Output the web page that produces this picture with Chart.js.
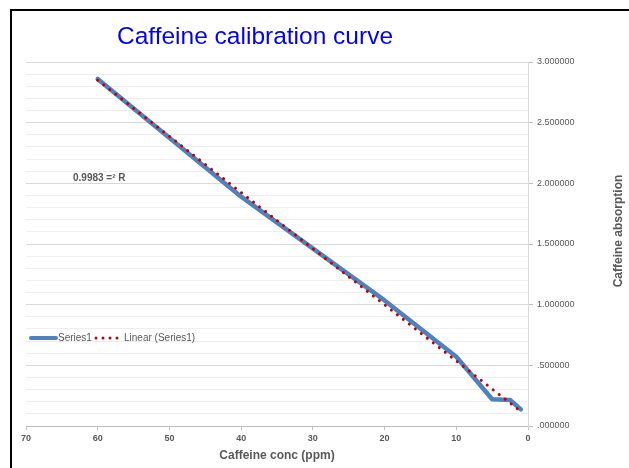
<!DOCTYPE html>
<html>
<head>
<meta charset="utf-8">
<script src="https://cdn.jsdelivr.net/npm/chart.js@4"></script>
<style>
  html, body { margin: 0; padding: 0; background: #fff; }
  #wrap { position: relative; width: 629px; height: 468px; overflow: hidden; }
  #chart { position: absolute; left: 0; top: 0; }
  #frame { position: absolute; left: 10px; top: 9px; width: 640px; height: 480px;
           border-left: 2px solid #000; border-top: 2px solid #000; pointer-events: none; }
  #cap { position: absolute; left: 0; top: -15px; font: bold 16px "Liberation Sans", sans-serif; color: #000; }
</style>
</head>
<body>
<div id="wrap">
  <canvas id="chart" width="629" height="468"></canvas>
  <div id="cap">Caffeine:</div>
  <div id="frame"></div>
</div>
<script>
// data
const concPpm = [60, 40, 20, 10, 5, 2.5, 1];
const absorbance = [2.86, 1.89, 1.035, 0.571, 0.22, 0.214, 0.137];
// linear trendline end points
const trendConc = [60, 1];
const trendAbs = [2.85, 0.12];

const chartTitle = "Caffeine calibration curve";
const xTitle = "Caffeine conc (ppm)";
const yTitle = "Caffeine absorption";
const rSquaredText = "0.9983 =² R";
const seriesNames = ["Series1", "Linear (Series1)"];

const FONT = "'Liberation Sans', sans-serif";
const GREY = "#595959";
const BLUE = "#4F81BD";
const RED = "#C00000";

const toPoints = (xs, ys) => xs.map((x, i) => ({ x: x, y: ys[i] }));
const isMajor = v => Math.abs(v * 2 - Math.round(v * 2)) < 1e-6;

// title, y title, R² label and legend drawn by hand
const extras = {
  id: "extras",
  afterDraw(chart) {
    const ctx = chart.ctx;
    ctx.save();
    ctx.fillStyle = "#0000FF";
    ctx.font = "24.5px " + FONT;
    ctx.textAlign = "center";
    ctx.textBaseline = "middle";
    ctx.fillText(chartTitle, 255, 37);

    ctx.fillStyle = GREY;
    ctx.font = "bold 12px " + FONT;
    ctx.save();
    ctx.translate(619, 231);
    ctx.rotate(-Math.PI / 2);
    ctx.fillText(yTitle, 0, 0);
    ctx.restore();

    ctx.font = "bold 10px " + FONT;
    ctx.textAlign = "left";
    ctx.fillText(rSquaredText, 73, 178);

    // legend
    ctx.strokeStyle = BLUE;
    ctx.lineWidth = 4;
    ctx.lineCap = "round";
    ctx.beginPath();
    ctx.moveTo(31, 338);
    ctx.lineTo(56, 338);
    ctx.stroke();
    ctx.font = "10px " + FONT;
    ctx.fillText(seriesNames[0], 58, 338);
    ctx.fillStyle = RED;
    [96, 103, 110, 117].forEach(x => {
      ctx.beginPath();
      ctx.arc(x, 338, 1.5, 0, Math.PI * 2);
      ctx.fill();
    });
    ctx.fillStyle = GREY;
    ctx.fillText(seriesNames[1], 124, 338);
    ctx.restore();
  }
};

new Chart(document.querySelector("#chart"), {
  type: "scatter",
  data: {
    datasets: [
      {
        label: seriesNames[0],
        data: toPoints(concPpm, absorbance),
        showLine: true,
        borderColor: BLUE,
        borderWidth: 4.5,
        borderCapStyle: "round",
        borderJoinStyle: "round",
        pointRadius: 0,
        order: 2,
      },
      {
        label: seriesNames[1],
        data: toPoints(trendConc, trendAbs),
        showLine: true,
        borderColor: RED,
        borderWidth: 3,
        borderCapStyle: "round",
        borderDash: [0.01, 7.6],
        pointRadius: 0,
        order: 1,
      },
    ],
  },
  options: {
    animation: false,
    responsive: false,
    layout: { padding: { left: 26, top: 62, right: 0, bottom: 0 } },
    plugins: { legend: { display: false }, title: { display: false }, tooltip: { enabled: false } },
    scales: {
      x: {
        type: "linear",
        reverse: true,
        min: 0,
        max: 70,
        afterFit: s => { s.height = 42; },
        ticks: { stepSize: 10, color: GREY, font: { family: FONT, size: 9, weight: "bold" }, padding: 3, maxRotation: 0 },
        grid: { drawOnChartArea: false, tickLength: 4, color: "#bfbfbf" },
        border: { color: "#bfbfbf" },
        title: { display: true, text: xTitle, color: GREY, font: { family: FONT, size: 12, weight: "bold" }, padding: { top: 2, bottom: 5 } },
      },
      y: {
        position: "right",
        min: 0,
        max: 3,
        afterFit: s => { s.width = 101; },
        ticks: {
          stepSize: 0.1,
          autoSkip: false,
          color: GREY,
          font: { family: FONT, size: 9 },
          padding: 4,
          callback: v => {
            if (!isMajor(v)) return "";
            const t = v.toFixed(6);
            return v < 1 ? t.slice(1) : t;
          },
        },
        grid: {
          color: c => isMajor(c.tick.value) ? "#d9d9d9" : "#eeeeee",
          tickColor: c => isMajor(c.tick.value) ? "#bfbfbf" : "rgba(0,0,0,0)",
          tickLength: 5,
        },
        border: { color: "#d9d9d9" },
      },
    },
  },
  plugins: [extras],
});
</script>
</body>
</html>
